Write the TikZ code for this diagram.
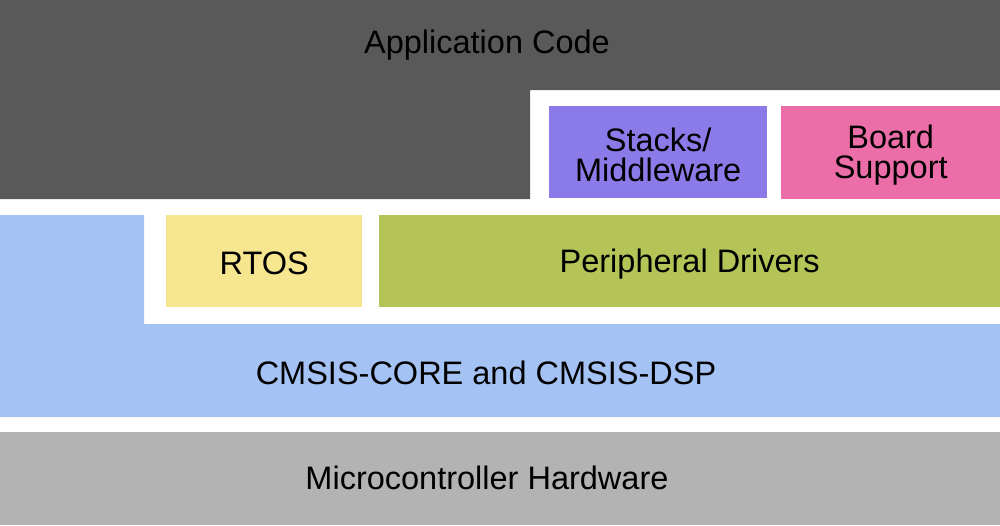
\documentclass[tikz,border=0pt]{standalone}
\usepackage{fontspec}
\setmainfont{Liberation Sans}
\definecolor{appc}{HTML}{595959}
\definecolor{stackc}{HTML}{8B7BE8}
\definecolor{boardc}{HTML}{EC6EA8}
\definecolor{rtosc}{HTML}{F7E690}
\definecolor{perc}{HTML}{B5C456}
\definecolor{cmsisc}{HTML}{A4C2F4}
\definecolor{hwc}{HTML}{B3B3B3}
\begin{document}
\begin{tikzpicture}[x=1pt,y=-1pt,
  lbl/.style={font=\fontsize{32.5}{30}\selectfont, text=black, align=center, inner sep=0pt, yshift=-2.5pt},
  blk/.style={draw=none, inner sep=0pt, anchor=north west}]
\useasboundingbox[fill=white] (0,0) rectangle (1000,525);
% Application code (L-shape)
\fill[appc] (0,0) -- (1000,0) -- (1000,90) -- (530,90) -- (530,199) -- (0,199) -- cycle;
\node[lbl] (app) at (487,43) {Application Code};
% Stacks / Board
\node[blk, fill=stackc, minimum width=218pt, minimum height=92pt] (stk) at (549,106) {};
\node[lbl] (stkt) at (stk.center) {Stacks/\\Middleware};
\node[blk, fill=boardc, minimum width=219pt, minimum height=93pt] (brd) at (781,106) {};
\node[lbl] (brdt) at (brd.center) {Board\\Support};
% CMSIS (L-shape)
\fill[cmsisc] (0,215) -- (144,215) -- (144,324) -- (1000,324) -- (1000,417) -- (0,417) -- cycle;
\node[lbl] (cmsis) at (486,370) {CMSIS-CORE and CMSIS-DSP};
% RTOS / Peripheral
\node[blk, fill=rtosc, minimum width=196pt, minimum height=92pt] (rtos) at (166,215) {};
\node[lbl] (rtost) at (rtos.center) {RTOS};
\node[blk, fill=perc, minimum width=621pt, minimum height=92pt] (per) at (379,215) {};
\node[lbl] (pert) at (per.center) {Peripheral Drivers};
% Hardware
\node[blk, fill=hwc, minimum width=1000pt, minimum height=93pt] (hw) at (0,432) {};
\node[lbl] (hwt) at (487,475) {Microcontroller Hardware};
\end{tikzpicture}
\end{document}
